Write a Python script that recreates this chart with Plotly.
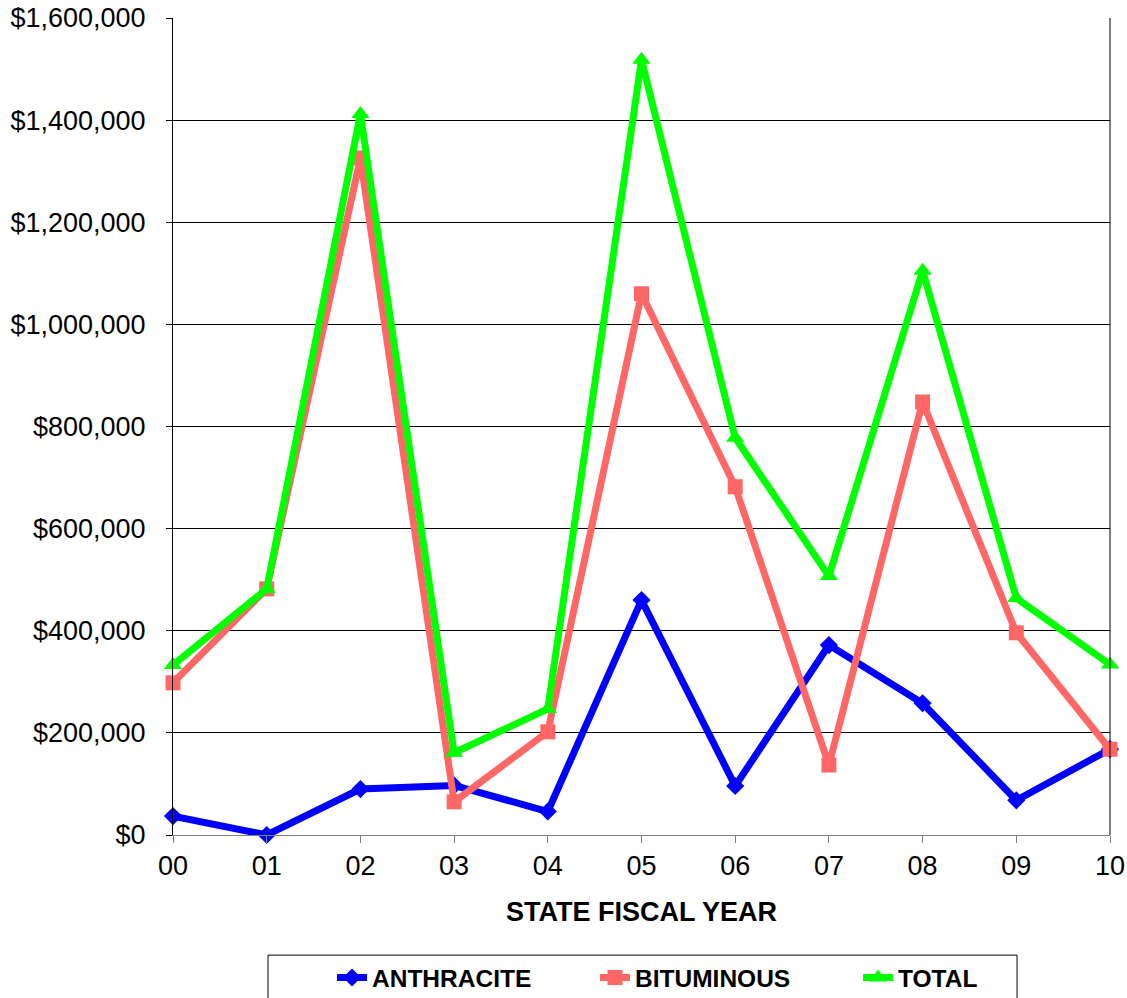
import plotly.graph_objects as go

years = ["00", "01", "02", "03", "04", "05", "06", "07", "08", "09", "10"]
anthracite = [37000, 0, 90000, 97000, 46000, 460000, 96000, 372000, 258000, 68000, 168000]
bituminous = [298000, 482000, 1326000, 65000, 202000, 1060000, 682000, 137000, 848000, 396000, 168000]
total = [333000, 482000, 1412000, 161000, 247000, 1518000, 778000, 507000, 1105000, 464000, 334000]

x = list(range(len(years)))

fig = go.Figure()
fig.add_trace(go.Scatter(x=x, y=anthracite, name="ANTHRACITE", mode="lines+markers",
                         line=dict(color="#0000FF", width=7),
                         marker=dict(symbol="diamond", size=14, color="#0000FF"), cliponaxis=False))
fig.add_trace(go.Scatter(x=x, y=bituminous, name="BITUMINOUS", mode="lines+markers",
                         line=dict(color="#FF6666", width=7),
                         marker=dict(symbol="square", size=15, color="#FF6666"), cliponaxis=False))
fig.add_trace(go.Scatter(x=x, y=total, name="TOTAL", mode="lines+markers",
                         line=dict(color="#00FF00", width=7),
                         marker=dict(symbol="triangle-up", size=16, color="#00FF00"), cliponaxis=False))

fig.update_layout(
    width=1127, height=998,
    margin=dict(l=173, r=17, t=18, b=163, autoexpand=False),
    paper_bgcolor="white", plot_bgcolor="white",
    font=dict(family="Liberation Sans, Arial, sans-serif", size=27, color="black"),
    showlegend=True,
    legend=dict(orientation="h", x=0.1697, xanchor="left", y=-0.147, yanchor="top",
                borderwidth=0, bgcolor="rgba(0,0,0,0)",
                font=dict(size=24.5, family="Liberation Sans, Arial, sans-serif", weight="bold"),
                entrywidth=218, entrywidthmode="pixels"),
)
fig.update_xaxes(
    range=[0, 10], tickmode="array", tickvals=x, ticktext=years,
    showgrid=False, zeroline=False, automargin=False,
    showline=True, linecolor="#808080", linewidth=1, mirror=False,
    ticks="outside", ticklen=7, tickcolor="#808080",
    ticklabelstandoff=0, ticklabeloverflow="allow",
    tickfont=dict(size=27),
    title=dict(text="STATE FISCAL YEAR", font=dict(size=27, weight="bold"), standoff=21),
)
fig.update_yaxes(
    range=[0, 1600000], dtick=200000, tickprefix="$", tickformat=",d",
    showgrid=True, gridcolor="black", gridwidth=1, zeroline=False, automargin=False,
    showline=True, linecolor="black", linewidth=1,
    ticks="outside", ticklen=6, tickcolor="black",
    ticklabelstandoff=15, ticklabeloverflow="allow",
    tickfont=dict(size=27),
)
# right border line
fig.add_shape(type="line", xref="paper", yref="paper", x0=1, x1=1, y0=0, y1=1,
              line=dict(color="black", width=1))
# legend frame
fig.add_shape(type="rect", xref="paper", yref="paper", x0=0.1014, x1=0.9008, y0=-0.2007, y1=-0.147,
              line=dict(color="black", width=1), fillcolor="rgba(0,0,0,0)", layer="below")

fig.write_html(
    "out.html",
    config={"displayModeBar": False},
    post_script="document.body.style.margin='0';document.body.style.overflow='hidden';",
)
